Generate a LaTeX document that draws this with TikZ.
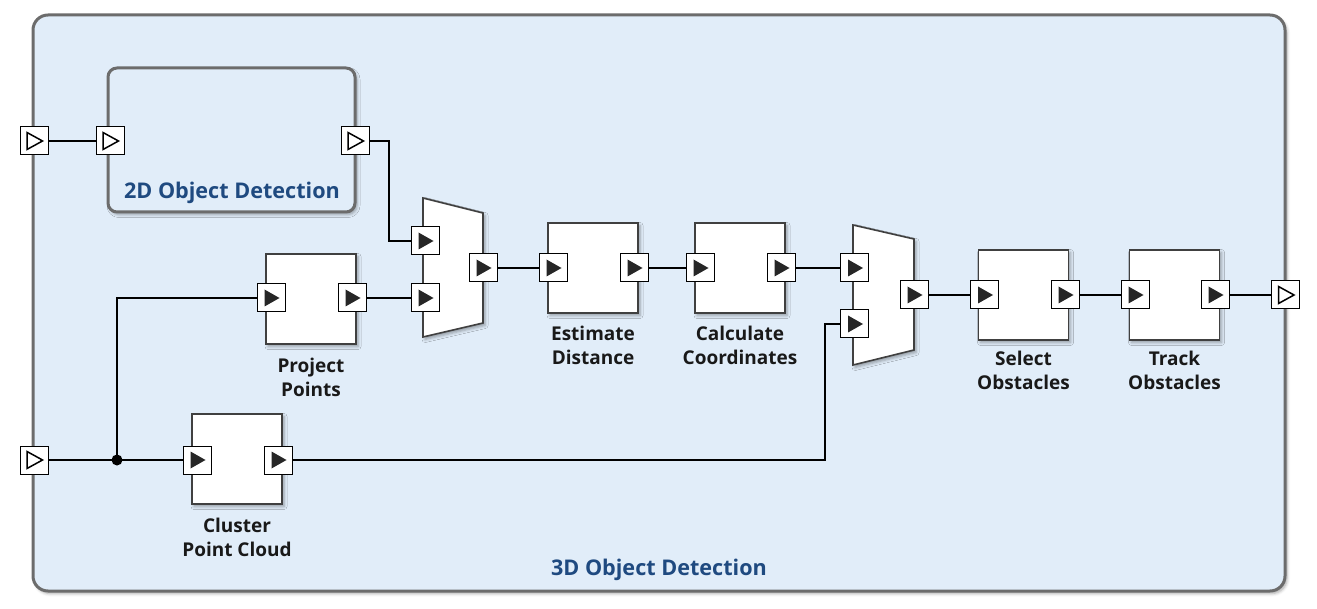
\documentclass[tikz,border=0pt]{standalone}
\usepackage{fontspec}
\setmainfont{Open Sans}
\usetikzlibrary{shadows.blur}
\definecolor{bgblue}{HTML}{E1EDF9}
\definecolor{frame}{HTML}{6C6C6C}
\definecolor{blockline}{HTML}{404040}
\definecolor{titleblue}{HTML}{1F4A80}
\definecolor{tri}{HTML}{262626}
\begin{document}
\begin{tikzpicture}[x=1pt,y=-1pt,
  myshadow/.style={blur shadow={shadow xshift=2pt,shadow yshift=-2.5pt,shadow blur radius=3pt,shadow opacity=35}},
  portbox/.style={draw=black, line width=1pt, fill=white, minimum size=28pt, inner sep=0pt, outer sep=0pt},
  inport/.style={portbox, path picture={\fill[tri] ([xshift=-6.5pt,yshift=-8.5pt]path picture bounding box.center) -- ([xshift=8.5pt]path picture bounding box.center) -- ([xshift=-6.5pt,yshift=8.5pt]path picture bounding box.center) -- cycle;}},
  ioport/.style={portbox, path picture={\draw[black,line width=1.5pt,line join=miter] ([xshift=-7pt,yshift=-8.5pt]path picture bounding box.center) -- ([xshift=8.5pt]path picture bounding box.center) -- ([xshift=-7pt,yshift=8.5pt]path picture bounding box.center) -- cycle;}},
  block/.style={draw=blockline, line width=1.6pt, fill=white, minimum width=90pt, minimum height=90pt, inner sep=0pt, myshadow},
  muxshape/.style={draw=blockline, line width=1.6pt, fill=white, line join=miter, myshadow},
  lbl/.style={align=center, font=\fontsize{19}{24}\selectfont\bfseries, text=black!90, inner sep=0pt},
  ttl/.style={font=\fontsize{21.6}{26}\selectfont\bfseries, text=titleblue, inner sep=0pt},
  wire/.style={line width=1.6pt, black}
]
\useasboundingbox (0,0) rectangle (1317,609);

% outer subsystem
\draw[frame, line width=3pt, fill=bgblue, rounded corners=15pt, myshadow] (33,15) rectangle (1285,591);
\node[ttl] (t3d) at (659,570) {3D Object Detection};

% 2D object detection subsystem
\draw[frame, line width=3pt, fill=bgblue, rounded corners=9pt, myshadow] (108,68) rectangle (355,212);
\node[ttl] (t2d) at (232,193) {2D Object Detection};

% blocks
\node[block] (pp) at (311,299) {};
\node[block] (ed) at (593,268) {};
\node[block] (cc) at (740,268) {};
\node[block] (so) at (1023.5,295) {};
\node[block] (tr) at (1174.5,295) {};
\node[block] (cp) at (237,459) {};

% labels
\node[lbl] (lpp) at (311,377) {Project\\Points};
\node[lbl] (led) at (593,345) {Estimate\\Distance};
\node[lbl] (lcc) at (740,345) {Calculate\\Coordinates};
\node[lbl] (lso) at (1023.5,370) {Select\\Obstacles};
\node[lbl] (ltr) at (1174.5,370) {Track\\Obstacles};
\node[lbl] (lcp) at (237,537) {Cluster\\Point Cloud};

% muxes
\draw[muxshape] (423,198) -- (483,213) -- (483,323) -- (423,337) -- cycle;
\draw[muxshape] (853,225) -- (914,239) -- (914,350) -- (853,365) -- cycle;

% ports
\node[ioport] (in1) at (34,141) {};
\node[ioport] (in2) at (34,460) {};
\node[ioport] (out1) at (1285.5,295) {};
\node[ioport] (d2in) at (110,141) {};
\node[ioport] (d2out) at (355,141) {};

\node[inport] (ppi) at (271,298) {};
\node[inport] (ppo) at (352,298) {};
\node[inport] (m1a) at (425,241) {};
\node[inport] (m1b) at (425,298) {};
\node[inport] (m1o) at (483,268) {};
\node[inport] (edi) at (553,268) {};
\node[inport] (edo) at (634,268) {};
\node[inport] (cci) at (700,268) {};
\node[inport] (cco) at (781,268) {};
\node[inport] (m2a) at (854.5,268) {};
\node[inport] (m2b) at (854.5,324) {};
\node[inport] (m2o) at (914,295) {};
\node[inport] (soi) at (984.5,295) {};
\node[inport] (soo) at (1065,295) {};
\node[inport] (tri) at (1135,295) {};
\node[inport] (tro) at (1215,295) {};
\node[inport] (cpi) at (197,460) {};
\node[inport] (cpo) at (278,460) {};

% junction
\coordinate (j) at (117,460);
\fill (j) circle (5.5pt);

% wires
\draw[wire] (in1.east) -- (d2in.west);
\draw[wire] (d2out.east) -- ++(20,0) |- (m1a.west);
\draw[wire] (ppo.east) -- (m1b.west);
\draw[wire] (in2.east) -- (cpi.west);
\draw[wire] (j) |- (ppi.west);
\draw[wire] (m1o.east) -- (edi.west);
\draw[wire] (edo.east) -- (cci.west);
\draw[wire] (cco.east) -- (m2a.west);
\draw[wire] (cpo.east) -- (825,460) |- (m2b.west);
\draw[wire] (m2o.east) -- (soi.west);
\draw[wire] (soo.east) -- (tri.west);
\draw[wire] (tro.east) -- (out1.west);
\end{tikzpicture}
\end{document}
